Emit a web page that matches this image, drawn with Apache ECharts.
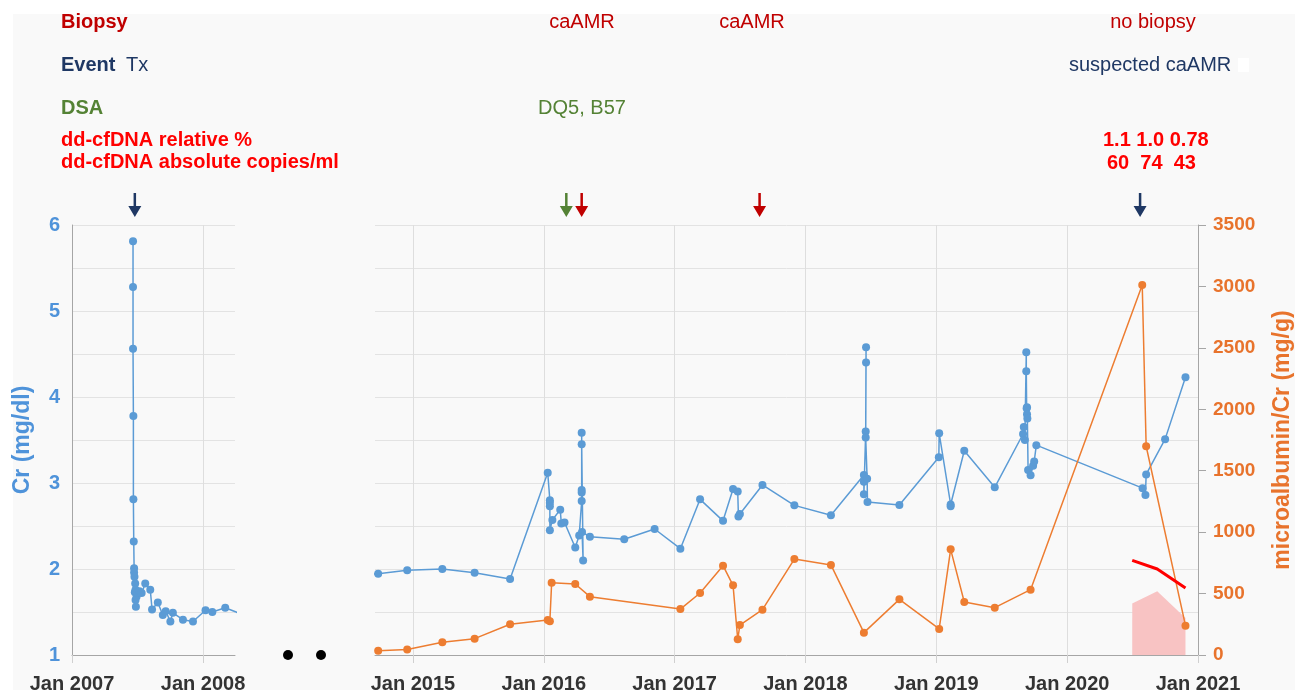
<!DOCTYPE html>
<html>
<head>
<meta charset="utf-8">
<script src="https://cdn.jsdelivr.net/npm/echarts@6/dist/echarts.min.js"></script>
<style>
  html, body { margin: 0; padding: 0; background: #fff; }
  #panel { position: absolute; left: 13px; top: 14px; width: 1282px; height: 676px; background: #f9f9f9; }
  #chart { position: absolute; left: 0; top: 0; width: 1303px; height: 696px; }
</style>
</head>
<body>
<div id="panel"></div>
<div id="chart"></div>
<script>
  // creatinine right after transplant (2007)
  var txCrDates = [
    '2007-06-20', '2007-06-20', '2007-06-20', '2007-06-21', '2007-06-21', '2007-06-22',
    '2007-06-23', '2007-06-23', '2007-06-24', '2007-06-26', '2007-06-27', '2007-06-25',
    '2007-06-27', '2007-06-28', '2007-06-30', '2007-07-03', '2007-07-08', '2007-07-14',
    '2007-07-24', '2007-08-07', '2007-08-12', '2007-08-28', '2007-09-11', '2007-09-19',
    '2007-10-02', '2007-10-09', '2007-11-06', '2007-12-04', '2008-01-08', '2008-01-27',
    '2008-03-03', '2008-04-20'
  ];
  var txCrValues = [
    5.81, 5.28, 4.56, 3.78, 2.81, 2.32,
    2.01, 1.96, 1.91, 1.83, 1.76, 1.73,
    1.64, 1.56, 1.68, 1.72, 1.74, 1.72,
    1.83, 1.76, 1.53, 1.61, 1.465, 1.51,
    1.39, 1.49, 1.41, 1.39, 1.52, 1.50,
    1.55, 1.47
  ];

  // creatinine 2014 - 2020
  var crDates = [
    '2014-08-08', '2014-09-26', '2014-12-16', '2015-03-24', '2015-06-22', '2015-09-29',
    '2016-01-12', '2016-01-18', '2016-01-18', '2016-01-18', '2016-01-18', '2016-01-25',
    '2016-02-16', '2016-02-19', '2016-02-28', '2016-03-29', '2016-04-09', '2016-04-16',
    '2016-04-16', '2016-04-16', '2016-04-16', '2016-04-16', '2016-04-20', '2016-04-17',
    '2016-05-09', '2016-08-13', '2016-11-06', '2017-01-17', '2017-03-13', '2017-05-16',
    '2017-06-13', '2017-06-26', '2017-06-28', '2017-07-02', '2017-09-03', '2017-12-01',
    '2018-03-13', '2018-06-13', '2018-06-13', '2018-06-13', '2018-06-18', '2018-06-19',
    '2018-06-19', '2018-06-18', '2018-06-22', '2018-06-23', '2018-09-20', '2019-01-08',
    '2019-01-09', '2019-02-10', '2019-02-10', '2019-03-20', '2019-06-13', '2019-08-31',
    '2019-09-02', '2019-09-05', '2019-09-09', '2019-09-09', '2019-09-10', '2019-09-11',
    '2019-09-11', '2019-09-12', '2019-09-14', '2019-09-21', '2019-09-28', '2019-10-01',
    '2019-10-07', '2020-07-30', '2020-08-07', '2020-08-09', '2020-10-01', '2020-11-27'
  ];
  var crValues = [
    1.93, 1.945, 1.985, 2.00, 1.957, 1.884,
    3.12, 2.80, 2.77, 2.73, 2.45, 2.57,
    2.69, 2.53, 2.54, 2.25, 2.39, 2.79,
    2.89, 2.92, 3.585, 3.45, 2.10, 2.43,
    2.375, 2.345, 2.465, 2.236, 2.81, 2.56,
    2.93, 2.90, 2.61, 2.64, 2.977, 2.74,
    2.624, 3.093, 3.015, 2.87, 3.60, 4.578,
    4.40, 3.53, 3.05, 2.78, 2.744, 3.30,
    3.578, 2.75, 2.73, 3.375, 2.95, 3.57,
    3.65, 3.50, 4.52, 4.30, 3.87, 3.88,
    3.80, 3.75, 3.15, 3.09, 3.20, 3.25,
    3.44, 2.94, 2.86, 3.10, 3.51, 4.23
  ];

  // microalbumin / Cr (mg/g)
  var albDates = [
    '2014-09-26', '2014-12-16', '2015-03-24', '2015-06-22', '2015-09-29', '2016-01-12',
    '2016-01-18', '2016-01-23', '2016-03-29', '2016-05-09', '2017-01-17', '2017-03-13',
    '2017-05-16', '2017-06-13', '2017-06-26', '2017-07-02', '2017-09-03', '2017-12-01',
    '2018-03-13', '2018-06-13', '2018-09-20', '2019-01-09', '2019-02-10', '2019-03-20',
    '2019-06-13', '2019-09-21', '2020-07-29', '2020-08-09', '2020-11-27'
  ];
  var albValues = [
    35, 45, 103, 133, 250, 285,
    274, 589, 578, 475, 374, 505,
    727, 567, 128, 244, 369, 781,
    733, 182, 453, 212, 860, 431,
    385, 532, 3012, 1699, 239
  ];

  // donor-derived cell-free DNA
  var cfDates = ['2020-07-01', '2020-09-09', '2020-11-27'];
  var cfRelative = ['1.1', '1.0', '0.78'];
  var cfAbsolute = ['60', '74', '43'];

  // event arrows above the plot
  var txArrowDate = '2007-06-25';
  var arrowDates = ['2016-03-04', '2016-04-16', '2017-08-26', '2020-07-23'];
  var arrowColors = ['#548235', '#c00000', '#c00000', '#1f3864'];

  var leftYears = [2007, 2008];
  var rightYears = [2015, 2016, 2017, 2018, 2019, 2020, 2021];

  function yr(s) {
    var d = Date.parse(s + 'T00:00:00Z');
    var y = new Date(d).getUTCFullYear();
    var a = Date.UTC(y, 0, 1), b = Date.UTC(y + 1, 0, 1);
    return y + (d - a) / (b - a);
  }
  function pairs(dates, values) {
    return dates.map(function (d, i) { return [yr(d), Number(values[i])]; });
  }

  var FONT = '"Liberation Sans", Arial, sans-serif';
  var BLUE = '#5b9bd5', BLUE_TXT = '#4f93da', ORANGE = '#ed7d31', ORANGE_TXT = '#e8732c';
  var ARROW = 'path://M5.25,0 L7.75,0 L7.75,13 L13,13 L6.5,24 L0,13 L5.25,13 Z';

  function xAxisOpt(gridIndex, min, max, years) {
    return {
      type: 'value', gridIndex: gridIndex, min: min, max: max,
      axisLine: {show: true, onZero: false, lineStyle: {color: '#a6a6a6'}},
      axisTick: {show: true, length: 8, customValues: years, lineStyle: {color: '#d0d0d0'}},
      axisLabel: {
        customValues: years, margin: 19, color: '#333', fontSize: 20, fontWeight: 'bold', fontFamily: FONT,
        formatter: function (v) { return 'Jan ' + Math.round(v); }
      },
      splitLine: {show: true, lineStyle: {color: '#dedede'}}
    };
  }

  var chart = echarts.init(document.getElementById('chart'));
  var txt = function (x, y, text, color, bold, align) {
    return {
      type: 'text', x: x, y: y, silent: true,
      style: {
        text: text, fill: color, font: (bold ? 'bold ' : '') + '20px ' + FONT,
        textAlign: align || 'left', align: align || 'left', textVerticalAlign: 'middle', verticalAlign: 'middle'
      }
    };
  };

  chart.setOption({
    backgroundColor: 'transparent',
    animation: false,
    textStyle: {fontFamily: FONT},
    grid: [
      {left: 72, top: 225, width: 163, height: 430},
      {left: 375, top: 225, width: 823, height: 430}
    ],
    xAxis: [
      xAxisOpt(0, 2007, 2008.244, leftYears),
      xAxisOpt(1, 2014.71, 2021, rightYears)
    ],
    yAxis: [
      {
        type: 'value', gridIndex: 0, min: 1, max: 6, interval: 0.5,
        name: 'Cr (mg/dl)', nameLocation: 'middle', nameGap: 38, nameRotate: 90,
        nameTextStyle: {color: BLUE_TXT, fontSize: 23, fontWeight: 'bold'},
        axisLine: {show: true, lineStyle: {color: '#a6a6a6'}},
        axisTick: {show: false},
        axisLabel: {
          margin: 12, color: BLUE_TXT, fontSize: 20, fontWeight: 'bold',
          formatter: function (v) { return v % 1 === 0 ? String(v) : ''; }
        },
        splitLine: {lineStyle: {color: '#e3e3e3'}}
      },
      {
        type: 'value', gridIndex: 1, min: 1, max: 6, interval: 0.5,
        axisLine: {show: false}, axisTick: {show: false}, axisLabel: {show: false},
        splitLine: {lineStyle: {color: '#e3e3e3'}}
      },
      {
        type: 'value', gridIndex: 1, position: 'right', min: 0, max: 3500, interval: 500,
        name: 'microalbumin/Cr (mg/g)', nameLocation: 'middle', nameGap: 73, nameRotate: 90,
        nameTextStyle: {color: ORANGE_TXT, fontSize: 23, fontWeight: 'bold'},
        axisLine: {show: true, lineStyle: {color: '#a6a6a6'}},
        axisTick: {show: true, length: 8, lineStyle: {color: '#a6a6a6'}},
        axisLabel: {
          margin: 15, color: ORANGE_TXT, fontSize: 19, fontWeight: 'bold',
          formatter: function (v) { return String(v); }
        },
        splitLine: {show: false}
      },
      {type: 'value', gridIndex: 1, position: 'right', min: 0, max: 5, show: false, splitLine: {show: false}},
      {type: 'value', gridIndex: 1, position: 'right', min: 0, max: 500, show: false, splitLine: {show: false}}
    ],
    series: [
      {
        name: 'dd-cfDNA absolute', type: 'line', xAxisIndex: 1, yAxisIndex: 4, z: 1,
        data: pairs(cfDates, cfAbsolute), symbol: 'none',
        lineStyle: {width: 0, opacity: 0},
        areaStyle: {color: '#f8c3c3', opacity: 1}
      },
      {
        name: 'Cr 2007', type: 'line', xAxisIndex: 0, yAxisIndex: 0,
        data: pairs(txCrDates, txCrValues),
        symbol: 'circle', symbolSize: 8, color: BLUE,
        lineStyle: {width: 1.5, color: BLUE},
        markPoint: {
          symbol: ARROW, symbolSize: [13, 24], symbolOffset: [0, -20], label: {show: false},
          data: [{coord: [yr(txArrowDate), 6], itemStyle: {color: '#1f3864'}}]
        }
      },
      {
        name: 'Cr', type: 'line', xAxisIndex: 1, yAxisIndex: 1,
        data: pairs(crDates, crValues),
        symbol: 'circle', symbolSize: 8, color: BLUE,
        lineStyle: {width: 1.5, color: BLUE},
        markPoint: {
          symbol: ARROW, symbolSize: [13, 24], symbolOffset: [0, -20], label: {show: false},
          data: arrowDates.map(function (d, i) {
            return {coord: [yr(d), 6], itemStyle: {color: arrowColors[i]}};
          })
        }
      },
      {
        name: 'microalbumin/Cr', type: 'line', xAxisIndex: 1, yAxisIndex: 2,
        data: pairs(albDates, albValues),
        symbol: 'circle', symbolSize: 8, color: ORANGE,
        lineStyle: {width: 1.5, color: ORANGE}
      },
      {
        name: 'dd-cfDNA relative', type: 'line', xAxisIndex: 1, yAxisIndex: 3,
        data: pairs(cfDates, cfRelative), symbol: 'none',
        lineStyle: {width: 3, color: '#ff0000'}
      }
    ],
    graphic: [
      txt(61, 22, 'Biopsy', '#c00000', true),
      txt(61, 65, 'Event', '#1f3864', true),
      txt(126, 65, 'Tx', '#1f3864', false),
      txt(61, 108, 'DSA', '#548235', true),
      txt(61, 140, 'dd-cfDNA relative %', '#ff0000', true),
      txt(61, 162, 'dd-cfDNA absolute copies/ml', '#ff0000', true),
      txt(582, 22, 'caAMR', '#c00000', false, 'center'),
      txt(752, 22, 'caAMR', '#c00000', false, 'center'),
      txt(582, 108, 'DQ5, B57', '#548235', false, 'center'),
      txt(1153, 22, 'no biopsy', '#c00000', false, 'center'),
      txt(1069, 65, 'suspected caAMR', '#1f3864', false),
      {type: 'rect', shape: {x: 1238, y: 58, width: 11, height: 14}, style: {fill: '#ffffff'}, silent: true},
      txt(1103, 140, cfRelative.join(' '), '#ff0000', true),
      txt(1107, 163, cfAbsolute.join('  '), '#ff0000', true),
      {type: 'circle', shape: {cx: 288, cy: 655, r: 5}, style: {fill: '#000'}, silent: true},
      {type: 'circle', shape: {cx: 321, cy: 655, r: 5}, style: {fill: '#000'}, silent: true}
    ]
  });
</script>
</body>
</html>
